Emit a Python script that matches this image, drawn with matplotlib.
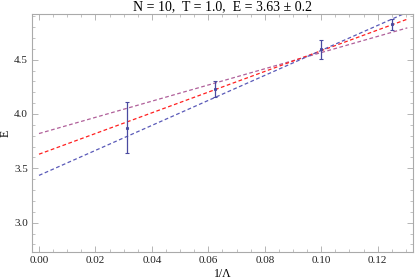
import numpy as np
import matplotlib
matplotlib.use('Agg')
import matplotlib.pyplot as plt
from matplotlib.ticker import MultipleLocator

# data
inv_lambda = [1/32, 1/16, 1/10, 1/8]
energy = [3.875, 4.23, 4.595, 4.825]
energy_err = [0.235, 0.07, 0.09, 0.05]

# fit lines: (intercept, slope, colour)
fit_names = ['upper', 'central', 'lower']
fit_intercepts = [3.82, 3.63, 3.435]
fit_slopes = [7.45, 9.52, 11.5]
fit_colors = ['#b0609a', '#ff2020', '#5a5ab8']

plt.rcParams['font.family'] = ['Liberation Serif', 'DejaVu Serif']

fig = plt.figure(figsize=(4.15, 2.8), dpi=100)
ax = fig.add_axes([0.077, 0.1, 0.918, 0.85])

xs = np.array([0.0, 0.1305])
for name, b, m, c in zip(fit_names, fit_intercepts, fit_slopes, fit_colors):
    ax.plot(xs, b + m * xs, ls=(0, (3, 2)), color=c, lw=0.9)

ax.errorbar(inv_lambda, energy, yerr=energy_err, fmt='none', ecolor='#4a4aa0',
            elinewidth=0.9, capsize=1.5, capthick=0.8)
ax.plot(inv_lambda, energy, ls='none', marker='s', ms=1.2, color='#4a4aa0')

ax.set_xlim(-0.0025, 0.1325)
ax.set_ylim(2.73, 4.92)
ax.xaxis.set_major_locator(MultipleLocator(0.02))
ax.xaxis.set_minor_locator(MultipleLocator(0.005))
ax.yaxis.set_major_locator(MultipleLocator(0.5))
ax.yaxis.set_minor_locator(MultipleLocator(0.1))
ax.xaxis.set_major_formatter(matplotlib.ticker.FormatStrFormatter('%.2f'))
ax.yaxis.set_major_formatter(matplotlib.ticker.FormatStrFormatter('%.1f'))

ax.tick_params(which='both', direction='in', top=True, right=True,
               color='#aaaaaa', labelsize=8, labelcolor='#222222', pad=3)
ax.tick_params(which='major', length=4, width=0.6)
ax.tick_params(which='minor', length=2, width=0.5)
for s in ax.spines.values():
    s.set_color('#aaaaaa')
    s.set_linewidth(0.8)

ax.set_xlabel('1/\u039b', fontsize=8.5, labelpad=2)
ax.set_ylabel('E', fontsize=8.5, labelpad=2)
ax.set_title('N = 10,  T = 1.0,  E = 3.63 \u00b1 0.2', fontsize=10, pad=3)

fig.savefig('out.png', dpi=100)
